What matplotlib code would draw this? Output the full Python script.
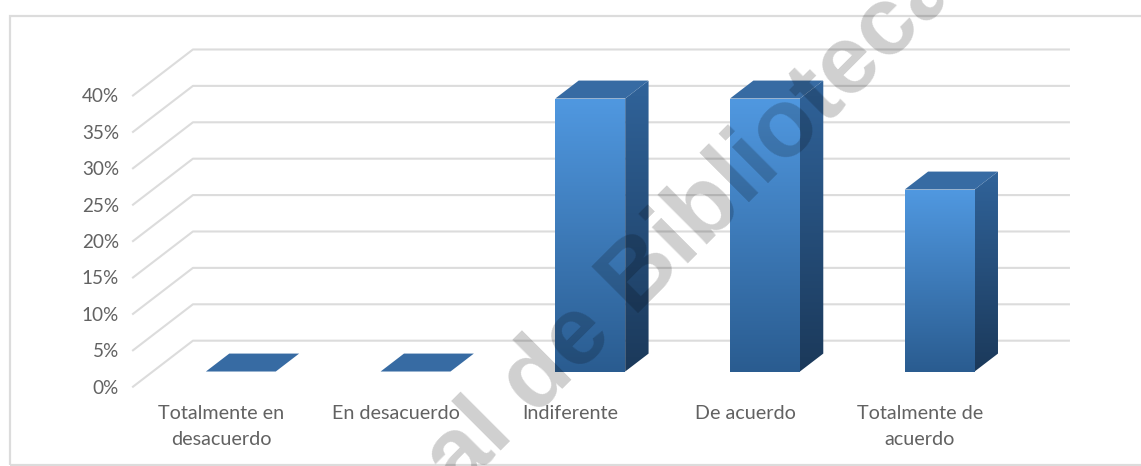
import numpy as np
import matplotlib
matplotlib.use("Agg")
import matplotlib.pyplot as plt
from matplotlib.colors import LinearSegmentedColormap
from matplotlib.patches import Polygon, Rectangle

categories = ["Totalmente en\ndesacuerdo", "En desacuerdo", "Indiferente",
              "De acuerdo", "Totalmente de\nacuerdo"]
values = [0, 0, 37.5, 37.5, 25]
y_ticks = [0, 5, 10, 15, 20, 25, 30, 35, 40]
y_labels = ["0%", "5%", "10%", "15%", "20%", "25%", "30%", "35%", "40%"]

W, H = 1141, 466
GRID = "#dcdcdc"
TEXT = "#626262"

# Oblique projection of the floor depth, in data units
DEPTH_X = 0.343
DEPTH_Y = 6.32
BAR_FRONT = 0.33
BAR_BACK = 0.72
BAR_WIDTH = 0.40

fig = plt.figure(figsize=(W / 100, H / 100), dpi=100, facecolor="white")

# Chart frame, open past the right edge of the figure
fig.add_artist(Rectangle((9.5 / W, 1 - 465 / H), 1.2, (465 - 16) / H, transform=fig.transFigure,
                         fill=False, edgecolor=GRID, linewidth=1.6))

ax = fig.add_axes([133 / W, 1 - 386.7 / H, (1009 - 133) / W, 291.2 / H])
ax.set_xlim(-0.504, 4.51)
ax.set_ylim(0, 40)
ax.patch.set_alpha(0)
for spine in ax.spines.values():
    spine.set_visible(False)


def project(x, y, depth):
    return x + depth * DEPTH_X, y + depth * DEPTH_Y


def gradient_poly(points, top, bottom, zorder):
    pts = np.array(points)
    cmap = LinearSegmentedColormap.from_list("shade", [bottom, top])
    im = ax.imshow(np.linspace(1, 0, 128).reshape(-1, 1), cmap=cmap, aspect="auto", zorder=zorder,
                   extent=(pts[:, 0].min(), pts[:, 0].max(), pts[:, 1].min(), pts[:, 1].max()))
    clip = Polygon(pts, closed=True, transform=ax.transData, facecolor="none", edgecolor="none")
    ax.add_patch(clip)
    # The faces rise above the axes box, so only the polygon may clip them
    im.set_clip_box(fig.bbox)
    im.set_clip_path(clip)


# Back wall gridlines with their receding floor segments
xl, xr = ax.get_xlim()
for tick in y_ticks:
    bx, by = project(xl, tick, 1)
    ax.plot([xl, bx, xr + DEPTH_X], [tick, by, by], color=GRID, lw=1.5, clip_on=False,
            solid_joinstyle="round", zorder=1)

# Bars: front and side faces shaded vertically, flat top face
for i, value in enumerate(values):
    x0, x1 = i - BAR_WIDTH / 2, i + BAR_WIDTH / 2
    fl = project(x0, 0, BAR_FRONT)
    fr = project(x1, 0, BAR_FRONT)
    tl = project(x0, value, BAR_FRONT)
    tr = project(x1, value, BAR_FRONT)
    br = project(x1, 0, BAR_BACK)
    tbr = project(x1, value, BAR_BACK)
    tbl = project(x0, value, BAR_BACK)
    if value > 0:
        gradient_poly([fr, br, tbr, tr], "#30639a", "#1b395a", 3)
        gradient_poly([fl, fr, tr, tl], "#5098e0", "#2a5c90", 4)
    ax.add_patch(Polygon([tl, tr, tbr, tbl], closed=True, facecolor="#376ba3",
                         edgecolor="none", zorder=5, clip_on=False))

ax.set_xlim(xl, xr)
ax.set_ylim(0, 40)
ax.set_xticks(range(len(categories)))
ax.set_xticklabels(categories, fontsize=14.2, color=TEXT, family="Lato", linespacing=1.58)
ax.set_yticks(y_ticks)
ax.set_yticklabels(y_labels, fontsize=13.6, color=TEXT, family="Lato")
ax.tick_params(axis="x", length=0, pad=13.5)
ax.tick_params(axis="y", length=0, pad=10)

# Library watermark laid over the whole chart
fig.text(729.5 / W, 1 - 222.1 / H, "al de Bibliotecas", rotation=45, rotation_mode="anchor",
         ha="center", va="baseline", fontsize=70, family="Liberation Sans", fontweight="bold",
         color="black", alpha=0.19, zorder=10)

fig.savefig("out.png", dpi=100)
